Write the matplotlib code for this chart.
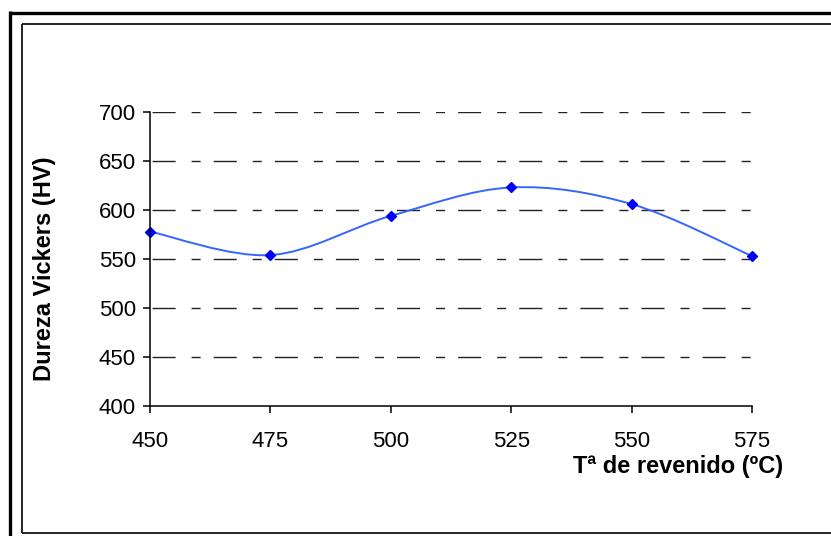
import numpy as np
import matplotlib
matplotlib.use('Agg')
import matplotlib.pyplot as plt
from matplotlib.path import Path
from matplotlib.patches import PathPatch
from matplotlib.lines import Line2D

plt.rcParams['font.family'] = ['Liberation Sans', 'DejaVu Sans']

# Data
temperatura = [450, 475, 500, 525, 550, 575]
dureza = [578, 554, 594, 623, 606, 553]

x_ticks = [450, 475, 500, 525, 550, 575]
y_ticks = [400, 450, 500, 550, 600, 650, 700]

W, H = 831, 536
fig = plt.figure(figsize=(W / 100, H / 100), dpi=100)

# double frame around the chart (Excel style)
def px_line(x0, y0, x1, y1, lw, color='black'):
    fig.add_artist(Line2D([x0 / W, x1 / W], [1 - y0 / H, 1 - y1 / H],
                          transform=fig.transFigure, lw=lw, color=color,
                          solid_capstyle='butt'))

px_line(9.5, 12.5, W, 12.5, 2.4)
px_line(9.5, 11, 9.5, H, 2.4)
px_line(21.5, 23.5, W, 23.5, 1.2)
px_line(21.5, 23.5, 21.5, 532.5, 1.2)
px_line(21.5, 532.5, W, 532.5, 1.2)

left, right, top, bottom = 150, 752, 112, 406
ax = fig.add_axes([left / W, 1 - bottom / H, (right - left) / W, (bottom - top) / H])
ax.set_xlim(450, 575)
ax.set_ylim(400, 700)
ax.set_xticks(x_ticks)
ax.set_yticks(y_ticks)
ax.tick_params(axis='both', labelsize=16, length=5, width=1.1, direction='out', color='black')
ax.tick_params(axis='y', pad=5)
ax.tick_params(axis='x', pad=13)
for s in ['top', 'right']:
    ax.spines[s].set_visible(False)
for s in ['left', 'bottom']:
    ax.spines[s].set_linewidth(1.1)
    ax.spines[s].set_zorder(4)

# dash-dot gridlines
for yv in y_ticks[1:]:
    ax.axhline(yv, color='#222222', lw=1.0, ls=(42.5, (16.6, 11.5, 6.5, 9.4)), zorder=1)

# smoothed line (Excel-like bezier through the points)
pts = np.column_stack([temperatura, dureza]).astype(float)
ext = np.vstack([pts[0], pts, pts[-1]])
verts = [tuple(pts[0])]
codes = [Path.MOVETO]
for i in range(len(pts) - 1):
    p0, p1, p2, p3 = ext[i], ext[i + 1], ext[i + 2], ext[i + 3]
    c1 = p1 + (p2 - p0) / 6
    c2 = p2 - (p3 - p1) / 6
    verts += [tuple(c1), tuple(c2), tuple(p2)]
    codes += [Path.CURVE4] * 3
ax.add_patch(PathPatch(Path(verts, codes), fill=False, edgecolor='#3366FF', lw=1.4, zorder=2))
ax.plot(temperatura, dureza, ls='none', marker='D', markersize=5.5, color='#0000FF', zorder=3, clip_on=False)

fig.text(45 / W, 1 - 269 / H, 'Dureza Vickers (HV)', rotation=90, fontsize=17,
         fontweight='bold', ha='center', va='center')
fig.text(678 / W, 1 - 466 / H, 'Tª de revenido (ºC)', fontsize=17,
         fontweight='bold', ha='center', va='center')

fig.savefig('out.png', dpi=100)
